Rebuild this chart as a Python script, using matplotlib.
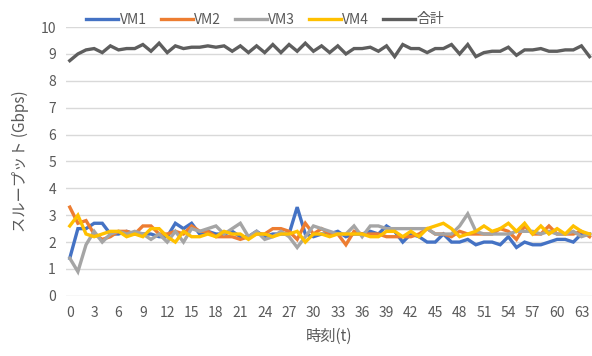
import matplotlib
matplotlib.use("Agg")
import matplotlib.pyplot as plt

plt.rcParams['font.family'] = ['Noto Sans CJK JP', 'DejaVu Sans']

t = list(range(65))

vm1 = [1.4, 2.5, 2.5, 2.7, 2.7, 2.3, 2.3, 2.4, 2.3, 2.3, 2.3, 2.2, 2.2, 2.7, 2.5, 2.7,
       2.3, 2.4, 2.3, 2.3, 2.4, 2.2, 2.2, 2.4, 2.2, 2.3, 2.3, 2.3, 3.3, 2.3, 2.2, 2.3,
       2.3, 2.4, 2.2, 2.3, 2.3, 2.4, 2.3, 2.6, 2.4, 2.0, 2.3, 2.2, 2.0, 2.0, 2.3, 2.0,
       2.0, 2.1, 1.9, 2.0, 2.0, 1.9, 2.2, 1.8, 2.0, 1.9, 1.9, 2.0, 2.1, 2.1, 2.0, 2.3, 2.3]
vm2 = [3.3, 2.7, 2.8, 2.3, 2.1, 2.2, 2.4, 2.4, 2.3, 2.6, 2.6, 2.3, 2.3, 2.4, 2.3, 2.6,
       2.4, 2.4, 2.2, 2.2, 2.2, 2.1, 2.2, 2.3, 2.3, 2.5, 2.5, 2.4, 2.1, 2.7, 2.3, 2.5,
       2.3, 2.3, 1.9, 2.4, 2.3, 2.3, 2.3, 2.2, 2.2, 2.2, 2.2, 2.3, 2.5, 2.3, 2.3, 2.2,
       2.4, 2.3, 2.3, 2.3, 2.3, 2.5, 2.4, 2.1, 2.6, 2.3, 2.3, 2.6, 2.3, 2.3, 2.3, 2.4, 2.2]
vm3 = [1.4, 0.9, 1.9, 2.4, 2.0, 2.3, 2.4, 2.3, 2.4, 2.3, 2.1, 2.3, 2.0, 2.4, 2.0, 2.5,
       2.4, 2.5, 2.6, 2.3, 2.5, 2.7, 2.2, 2.4, 2.1, 2.2, 2.4, 2.2, 1.8, 2.2, 2.6, 2.5,
       2.4, 2.3, 2.3, 2.6, 2.2, 2.6, 2.6, 2.5, 2.5, 2.5, 2.5, 2.5, 2.5, 2.3, 2.3, 2.3,
       2.6, 3.05, 2.4, 2.3, 2.3, 2.3, 2.3, 2.4, 2.4, 2.4, 2.3, 2.4, 2.3, 2.3, 2.4, 2.2, 2.3]
vm4 = [2.6, 3.0, 2.3, 2.2, 2.3, 2.4, 2.4, 2.2, 2.3, 2.2, 2.5, 2.5, 2.2, 2.0, 2.4, 2.2,
       2.2, 2.3, 2.2, 2.4, 2.3, 2.3, 2.1, 2.3, 2.3, 2.2, 2.3, 2.3, 2.4, 2.0, 2.3, 2.3,
       2.2, 2.3, 2.3, 2.3, 2.3, 2.2, 2.2, 2.4, 2.4, 2.2, 2.4, 2.2, 2.5, 2.6, 2.7, 2.5,
       2.2, 2.3, 2.4, 2.6, 2.4, 2.5, 2.7, 2.4, 2.7, 2.3, 2.6, 2.3, 2.5, 2.3, 2.6, 2.4, 2.3]
total = [8.75, 9.0, 9.15, 9.2, 9.05, 9.3, 9.15, 9.2, 9.2, 9.35, 9.1, 9.4, 9.05, 9.3, 9.2, 9.25,
         9.25, 9.3, 9.25, 9.3, 9.1, 9.3, 9.05, 9.3, 9.05, 9.35, 9.05, 9.35, 9.1, 9.4, 9.1, 9.3,
         9.05, 9.3, 9.0, 9.2, 9.2, 9.25, 9.1, 9.3, 8.9, 9.35, 9.2, 9.2, 9.05, 9.2, 9.2, 9.35,
         9.0, 9.35, 8.9, 9.05, 9.1, 9.1, 9.25, 8.95, 9.15, 9.15, 9.2, 9.1, 9.1, 9.15, 9.15, 9.3, 8.9]

names = ["VM1", "VM2", "VM3", "VM4", "合計"]
colors = ["#4472C4", "#ED7D31", "#A5A5A5", "#FFC000", "#5E5E5E"]
xticks = list(range(0, 64, 3))

fig = plt.figure(figsize=(5.92, 3.56), dpi=100)
ax = fig.add_axes([0.111, 0.169, 0.889, 0.755])

for ys, name, c in zip([vm1, vm2, vm3, vm4, total], names, colors):
    ax.plot(t, ys, color=c, lw=2.4, label=name, solid_joinstyle='miter')

ax.set_xlim(-0.5, 64.3)
ax.set_ylim(0, 10)
ax.set_yticks(range(0, 11))
ax.set_xticks(xticks)
ax.grid(axis='y', color='#D9D9D9', lw=1)
ax.set_axisbelow(True)
for s in ax.spines.values():
    s.set_visible(False)
ax.tick_params(length=0, labelsize=10, labelcolor='#595959', pad=7)

ax.set_xlabel("時刻(t)", fontsize=11, color='#595959', labelpad=6)
ax.set_ylabel("スループット (Gbps)", fontsize=11, color='#595959', labelpad=8)

fig.legend(loc='upper center', bbox_to_anchor=(0.448, 1.0), ncol=5, frameon=False,
           fontsize=10, handlelength=2.3, handletextpad=0.1, columnspacing=1.0,
           labelcolor='#595959')

fig.savefig("out.png", dpi=100)
